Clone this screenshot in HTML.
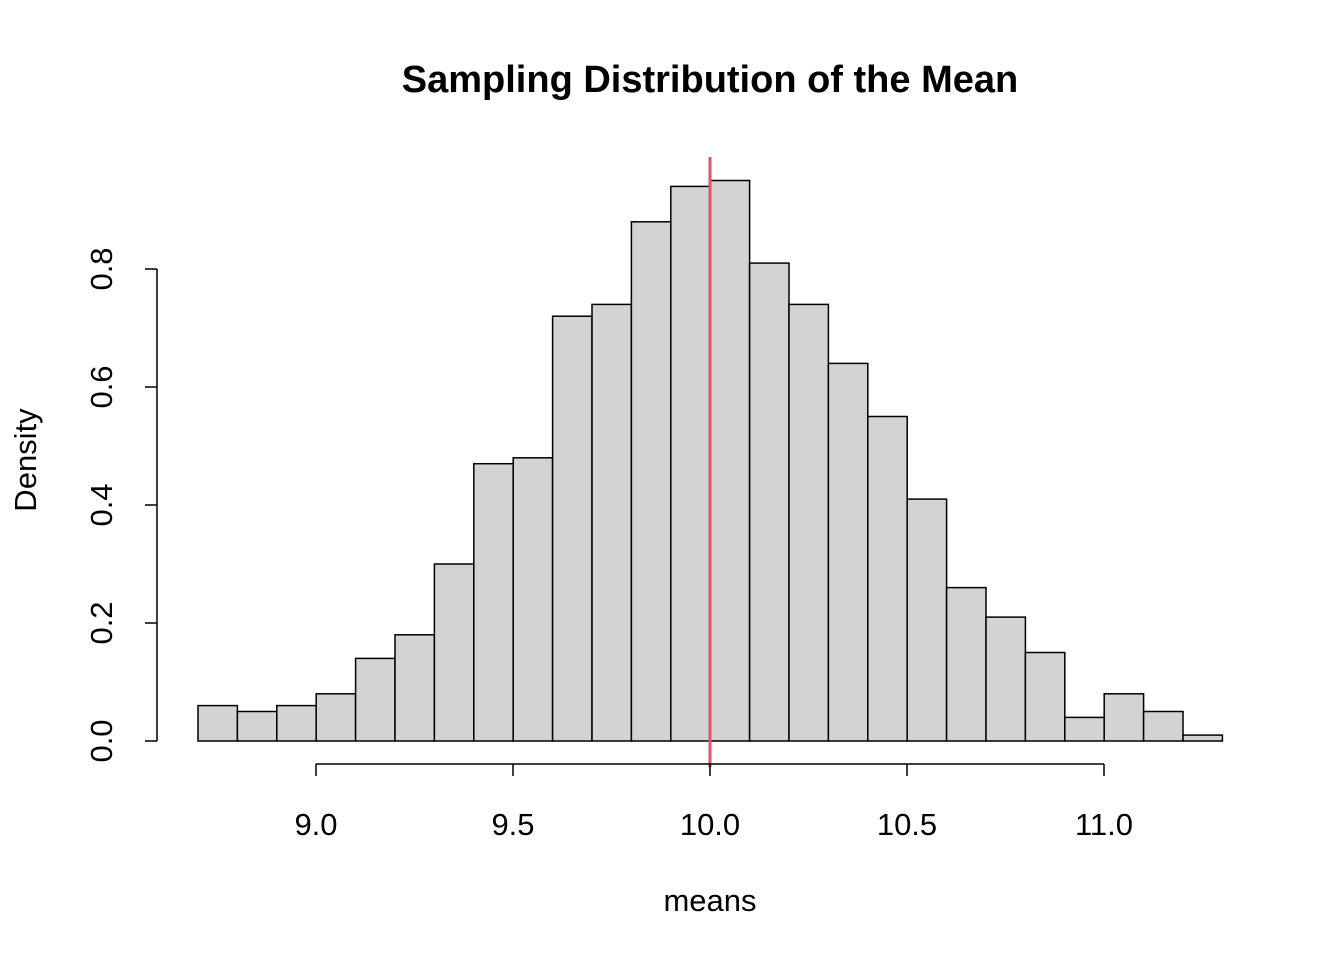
<!DOCTYPE html>
<html><head><meta charset="utf-8"><style>body{margin:0;background:#fff}</style></head>
<body>
<svg width="1344" height="960" xmlns="http://www.w3.org/2000/svg" font-family="Liberation Sans, Arial, sans-serif">
<rect width="1344" height="960" fill="#fff"/>
<g fill="#d3d3d3" stroke="#000" stroke-width="1.5">
<rect x="198.0" y="705.6" width="39.4" height="35.4"/>
<rect x="237.4" y="711.5" width="39.4" height="29.5"/>
<rect x="276.8" y="705.6" width="39.4" height="35.4"/>
<rect x="316.2" y="693.8" width="39.4" height="47.2"/>
<rect x="355.6" y="658.4" width="39.4" height="82.6"/>
<rect x="395.0" y="634.8" width="39.4" height="106.2"/>
<rect x="434.4" y="564.0" width="39.4" height="177.0"/>
<rect x="473.8" y="463.7" width="39.4" height="277.3"/>
<rect x="513.2" y="457.8" width="39.4" height="283.2"/>
<rect x="552.6" y="316.2" width="39.4" height="424.8"/>
<rect x="592.0" y="304.4" width="39.4" height="436.6"/>
<rect x="631.4" y="221.8" width="39.4" height="519.2"/>
<rect x="670.8" y="186.4" width="39.4" height="554.6"/>
<rect x="710.2" y="180.5" width="39.4" height="560.5"/>
<rect x="749.6" y="263.1" width="39.4" height="477.9"/>
<rect x="789.0" y="304.4" width="39.4" height="436.6"/>
<rect x="828.4" y="363.4" width="39.4" height="377.6"/>
<rect x="867.8" y="416.5" width="39.4" height="324.5"/>
<rect x="907.2" y="499.1" width="39.4" height="241.9"/>
<rect x="946.6" y="587.6" width="39.4" height="153.4"/>
<rect x="986.0" y="617.1" width="39.4" height="123.9"/>
<rect x="1025.4" y="652.5" width="39.4" height="88.5"/>
<rect x="1064.8" y="717.4" width="39.4" height="23.6"/>
<rect x="1104.2" y="693.8" width="39.4" height="47.2"/>
<rect x="1143.6" y="711.5" width="39.4" height="29.5"/>
<rect x="1183.0" y="735.1" width="39.4" height="5.9"/>
</g>
<line x1="710" y1="157" x2="710" y2="767" stroke="#DF536B" stroke-width="3"/>
<g stroke="#000" stroke-width="1.5" fill="none">
<line x1="157" y1="269" x2="157" y2="741"/>
<line x1="145" y1="741" x2="157" y2="741"/>
<line x1="145" y1="623" x2="157" y2="623"/>
<line x1="145" y1="505" x2="157" y2="505"/>
<line x1="145" y1="387" x2="157" y2="387"/>
<line x1="145" y1="269" x2="157" y2="269"/>
<line x1="316" y1="764" x2="1104" y2="764"/>
<line x1="316" y1="764" x2="316" y2="776"/>
<line x1="513" y1="764" x2="513" y2="776"/>
<line x1="710" y1="764" x2="710" y2="776"/>
<line x1="907" y1="764" x2="907" y2="776"/>
<line x1="1104" y1="764" x2="1104" y2="776"/>
</g>
<g font-size="31" text-anchor="middle" fill="#000">
<text x="316" y="835">9.0</text>
<text x="513" y="835">9.5</text>
<text x="710" y="835">10.0</text>
<text x="907" y="835">10.5</text>
<text x="1104" y="835">11.0</text>
<text transform="translate(112,741) rotate(-90)">0.0</text>
<text transform="translate(112,623) rotate(-90)">0.2</text>
<text transform="translate(112,505) rotate(-90)">0.4</text>
<text transform="translate(112,387) rotate(-90)">0.6</text>
<text transform="translate(112,269) rotate(-90)">0.8</text>
<text x="710" y="911">means</text>
<text transform="translate(36,460) rotate(-90)">Density</text>
<text x="710" y="92" font-size="38" font-weight="bold">Sampling Distribution of the Mean</text>
</g>
</svg>
</body></html>
